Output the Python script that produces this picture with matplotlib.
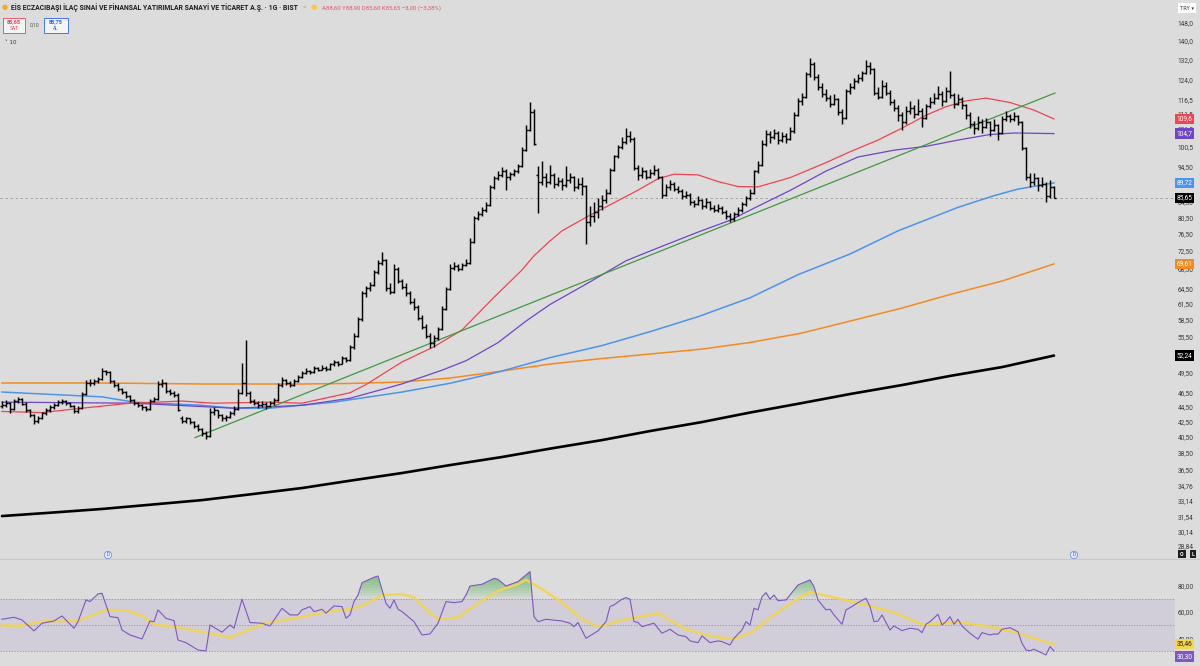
import numpy as np
import matplotlib
matplotlib.use('Agg')
import matplotlib.pyplot as plt
from matplotlib.ticker import NullLocator
from matplotlib.transforms import blended_transform_factory as btf
from matplotlib.patches import Rectangle

plt.rcParams['font.family'] = ['Roboto', 'DejaVu Sans']

# ---------------- data (daily OHLC) ----------------
opens = [44.6, 44.8, 45.0, 44.2, 45.3, 45.6, 44.9, 44.0, 43.3, 42.6,
         42.9, 43.6, 44.0, 44.4, 44.8, 45.1, 45.3, 45.0, 44.6, 43.9,
         44.3, 46.3, 48.0, 47.9, 48.2, 48.5, 49.7, 49.6, 48.2, 47.6,
         47.0, 46.6, 46.0, 45.4, 45.0, 44.7, 44.4, 44.2, 45.3, 45.6,
         47.8, 48.0, 46.8, 46.5, 46.2, 42.9, 42.6, 42.9, 42.4, 41.9,
         41.5, 41.0, 40.6, 43.8, 44.0, 43.3, 42.9, 43.1, 43.6, 44.2,
         46.5, 48.0, 46.5, 45.3, 45.0, 44.7, 44.9, 44.6, 45.0, 45.4,
         47.6, 48.4, 48.0, 47.6, 48.3, 48.8, 49.5, 49.8, 49.6, 50.2,
         50.0, 50.3, 50.1, 50.8, 51.2, 50.9, 51.8, 51.5, 53.6, 55.5,
         58.5, 63.5, 64.5, 65.2, 67.8, 69.8, 70.5, 64.5, 63.8, 68.5,
         66.0, 64.8, 63.5, 61.8, 60.8, 58.8, 57.2, 55.6, 54.3, 55.2,
         56.8, 60.5, 64.3, 68.8, 69.2, 68.6, 69.4, 69.8, 74.5, 80.5,
         81.5, 82.5, 83.8, 88.5, 91.0, 92.0, 93.2, 91.5, 92.3, 93.0,
         94.5, 99.5, 106.0, 112.0, 92.0, 90.0, 91.5, 90.0, 92.0, 89.5,
         90.3, 89.0, 90.5, 91.5, 88.5, 89.5, 88.8, 79.5, 81.0, 82.0,
         83.5, 85.0, 87.0, 93.5, 97.5, 100.5, 102.0, 104.0, 103.0, 94.0,
         92.0, 93.0, 91.5, 92.5, 93.5, 91.5, 86.5, 88.5, 89.5, 88.0,
         87.5, 86.0, 86.5, 84.5, 84.0, 85.0, 83.5, 84.5, 83.0, 82.5,
         83.0, 82.0, 81.0, 80.0, 81.5, 82.5, 84.0, 85.5, 87.0, 93.0,
         95.0, 101.5, 104.5, 103.5, 105.0, 102.5, 104.0, 103.0, 105.5, 111.0,
         116.0, 117.5, 126.0, 130.0, 125.0, 121.0, 118.5, 117.0, 115.0, 116.5,
         112.0, 110.0, 119.5, 121.0, 123.5, 124.5, 126.5, 129.5, 128.0, 119.0,
         117.5, 121.5, 119.0, 115.5, 113.5, 111.0, 108.5, 112.5, 113.5, 111.5,
         112.5, 110.0, 114.0, 115.5, 117.0, 118.5, 116.0, 119.5, 118.0, 115.0,
         116.5, 114.5, 111.0, 108.0, 106.5, 108.5, 107.0, 108.5, 106.0, 107.5,
         105.0, 109.5, 110.5, 109.5, 110.5, 108.5, 100.0, 91.5, 90.0, 91.0,
         89.0, 89.5, 86.0, 88.6]
highs = [45.3, 45.4, 45.1, 45.6, 45.9, 45.8, 45.1, 44.2, 43.5, 43.2,
         43.8, 44.3, 44.7, 45.0, 45.4, 45.6, 45.5, 45.2, 44.8, 44.6,
         46.6, 48.4, 48.5, 48.6, 48.9, 50.2, 50.0, 49.7, 48.4, 47.9,
         47.2, 46.8, 46.2, 45.6, 45.2, 44.9, 44.6, 45.6, 45.9, 48.3,
         48.6, 48.1, 47.1, 46.8, 46.4, 43.2, 43.1, 43.0, 42.6, 42.1,
         41.7, 41.3, 44.3, 44.4, 44.1, 43.5, 43.4, 43.9, 44.6, 47.0,
         51.0, 54.8, 46.8, 45.6, 45.3, 45.3, 45.1, 45.3, 45.8, 47.9,
         48.8, 48.6, 48.2, 48.6, 49.1, 49.8, 50.2, 50.0, 50.6, 50.4,
         50.7, 50.5, 51.1, 51.6, 51.4, 52.2, 52.0, 54.0, 56.0, 59.0,
         64.0, 65.0, 65.8, 68.3, 70.5, 72.2, 70.8, 65.5, 69.5, 69.0,
         66.5, 65.6, 64.0, 62.5, 61.2, 59.3, 57.6, 56.0, 55.8, 57.2,
         61.0, 64.8, 69.5, 70.0, 69.6, 69.9, 70.6, 75.5, 81.0, 82.2,
         83.1, 84.5, 89.0, 91.6, 93.2, 94.3, 93.6, 92.8, 93.6, 95.2,
         100.5, 107.5, 115.5, 113.0, 94.5, 96.0, 92.5, 95.0, 92.6, 91.5,
         91.0, 94.5, 92.5, 91.8, 91.0, 91.5, 89.0, 83.5, 84.5, 85.5,
         86.5, 88.0, 94.0, 98.0, 101.0, 103.5, 106.5, 105.5, 103.5, 94.8,
         94.2, 93.5, 93.8, 94.8, 94.0, 91.8, 89.5, 90.5, 90.0, 88.8,
         88.0, 87.5, 86.8, 85.0, 86.0, 85.4, 85.5, 84.8, 83.6, 84.0,
         83.4, 82.5, 81.6, 82.0, 83.2, 84.6, 86.2, 88.0, 93.5, 96.0,
         102.5, 106.0, 105.5, 106.2, 105.5, 105.2, 104.8, 106.8, 112.0, 117.0,
         119.0, 127.0, 132.5, 131.0, 126.0, 122.5, 120.5, 118.0, 118.5, 117.0,
         113.0, 120.5, 122.5, 124.5, 126.0, 127.5, 132.0, 131.0, 128.5, 121.0,
         124.0, 123.0, 120.0, 116.5, 114.5, 112.0, 114.0, 116.0, 114.5, 116.5,
         113.5, 115.0, 117.5, 119.0, 121.5, 119.5, 121.0, 127.5, 119.0, 118.5,
         117.5, 115.0, 112.0, 109.0, 110.5, 109.5, 110.0, 109.0, 109.5, 108.0,
         110.5, 112.5, 111.5, 112.0, 111.0, 109.0, 100.5, 92.5, 92.5, 91.5,
         91.5, 90.0, 90.5, 88.9]
lows = [44.3, 44.5, 43.6, 44.0, 45.0, 44.7, 43.8, 43.1, 42.2, 42.3,
        42.8, 43.4, 43.8, 44.2, 44.6, 44.9, 44.8, 44.4, 43.6, 43.7,
        44.2, 46.1, 47.5, 47.6, 47.9, 48.4, 49.2, 48.0, 47.3, 46.8,
        46.3, 45.7, 45.1, 44.8, 44.4, 44.1, 43.9, 44.1, 45.1, 45.5,
        47.4, 46.5, 46.2, 45.9, 43.9, 42.3, 42.3, 42.1, 41.6, 41.2,
        40.6, 40.2, 40.5, 43.4, 43.0, 42.6, 42.6, 42.9, 43.4, 44.0,
        46.3, 46.0, 45.0, 44.7, 44.3, 44.5, 44.2, 44.4, 44.8, 45.3,
        47.4, 47.7, 47.3, 47.5, 48.1, 48.7, 49.3, 49.3, 49.5, 49.7,
        49.9, 49.8, 50.0, 50.6, 50.6, 50.8, 51.2, 51.4, 53.4, 55.3,
        58.3, 62.8, 64.0, 65.0, 67.5, 69.3, 64.0, 63.4, 63.6, 65.6,
        64.3, 63.0, 61.4, 60.3, 58.4, 56.8, 55.2, 53.5, 53.6, 54.8,
        56.6, 60.3, 64.1, 68.2, 68.0, 68.3, 69.1, 69.6, 74.3, 79.9,
        80.9, 82.0, 83.5, 88.0, 90.4, 91.4, 87.7, 90.6, 91.6, 92.6,
        94.2, 99.2, 105.5, 101.0, 81.6, 89.0, 88.6, 89.5, 88.4, 88.8,
        87.8, 88.5, 89.6, 87.5, 88.0, 86.5, 74.0, 78.5, 79.5, 80.5,
        82.5, 84.2, 86.6, 93.0, 97.0, 99.8, 101.5, 102.0, 93.5, 90.5,
        91.2, 90.8, 91.0, 92.0, 90.8, 85.5, 86.0, 87.8, 87.4, 86.8,
        85.4, 85.6, 83.8, 83.2, 83.6, 82.8, 83.0, 82.4, 81.8, 82.0,
        81.4, 80.2, 79.4, 79.6, 81.0, 82.0, 83.5, 85.0, 86.6, 92.4,
        94.5, 100.8, 101.8, 102.8, 101.5, 102.0, 101.6, 102.5, 105.0, 110.5,
        114.5, 117.0, 125.0, 124.0, 120.0, 117.5, 116.0, 113.8, 114.5, 111.0,
        108.0, 109.5, 118.5, 120.5, 122.5, 123.5, 126.0, 126.0, 118.0, 116.5,
        117.0, 118.0, 114.5, 112.5, 109.0, 106.0, 108.0, 111.5, 110.0, 111.0,
        107.0, 109.5, 113.5, 115.0, 116.5, 114.0, 115.5, 117.0, 113.5, 114.5,
        113.0, 109.5, 106.5, 104.5, 106.0, 105.0, 106.5, 104.0, 105.5, 102.5,
        104.5, 109.0, 108.5, 109.0, 107.5, 99.5, 90.5, 88.5, 89.0, 87.5,
        88.5, 84.5, 85.5, 85.6]
closes = [44.8, 45.0, 44.2, 45.3, 45.6, 44.9, 44.0, 43.3, 42.6, 42.9,
          43.6, 44.0, 44.4, 44.8, 45.1, 45.3, 45.0, 44.6, 43.9, 44.3,
          46.3, 48.0, 47.9, 48.2, 48.5, 49.7, 49.6, 48.2, 47.6, 47.0,
          46.6, 46.0, 45.4, 45.0, 44.7, 44.4, 44.2, 45.3, 45.6, 47.8,
          48.0, 46.8, 46.5, 46.2, 44.0, 42.6, 42.9, 42.4, 41.9, 41.5,
          41.0, 40.6, 43.8, 44.0, 43.3, 42.9, 43.1, 43.6, 44.2, 46.5,
          48.0, 46.5, 45.3, 45.0, 44.7, 44.9, 44.6, 45.0, 45.4, 47.6,
          48.4, 48.0, 47.6, 48.3, 48.8, 49.5, 49.8, 49.6, 50.2, 50.0,
          50.3, 50.1, 50.8, 51.2, 50.9, 51.8, 51.5, 53.6, 55.5, 58.5,
          63.5, 64.5, 65.2, 67.8, 69.8, 70.5, 64.5, 63.8, 68.5, 66.0,
          64.8, 63.5, 61.8, 60.8, 58.8, 57.2, 55.6, 54.3, 55.2, 56.8,
          60.5, 64.3, 68.8, 69.2, 68.6, 69.4, 69.8, 74.5, 80.5, 81.5,
          82.5, 83.8, 88.5, 91.0, 92.0, 93.2, 91.5, 92.3, 93.0, 94.5,
          99.5, 106.0, 112.0, 101.5, 90.0, 91.5, 90.0, 92.0, 89.5, 90.3,
          89.0, 90.5, 91.5, 88.5, 89.5, 88.8, 79.5, 81.0, 82.0, 83.5,
          85.0, 87.0, 93.5, 97.5, 100.5, 102.0, 104.0, 103.0, 94.0, 92.0,
          93.0, 91.5, 92.5, 93.5, 91.5, 86.5, 88.5, 89.5, 88.0, 87.5,
          86.0, 86.5, 84.5, 84.0, 85.0, 83.5, 84.5, 83.0, 82.5, 83.0,
          82.0, 81.0, 80.0, 81.5, 82.5, 84.0, 85.5, 87.0, 93.0, 95.0,
          101.5, 104.5, 103.5, 105.0, 102.5, 104.0, 103.0, 105.5, 111.0, 116.0,
          117.5, 126.0, 130.0, 125.0, 121.0, 118.5, 117.0, 115.0, 116.5, 112.0,
          110.0, 119.5, 121.0, 123.5, 124.5, 126.5, 129.5, 128.0, 119.0, 117.5,
          121.5, 119.0, 115.5, 113.5, 111.0, 108.5, 112.5, 113.5, 111.5, 112.5,
          110.0, 114.0, 115.5, 117.0, 118.5, 116.0, 119.5, 118.0, 115.0, 116.5,
          114.5, 111.0, 108.0, 106.5, 108.5, 107.0, 108.5, 106.0, 107.5, 105.0,
          109.5, 110.5, 109.5, 110.5, 108.5, 100.0, 91.5, 90.0, 91.0, 89.0,
          89.5, 86.0, 88.6, 85.65]

# moving averages: (bar index, value) readings
red_idx = [0, 10, 20, 32, 45, 53, 67, 75, 87, 91, 100, 108, 115, 123, 130, 133, 137, 140,
           147, 153, 159, 164, 168, 174, 179, 184, 189, 197, 204, 206, 212, 219, 225, 231,
           236, 241, 246, 252, 258, 263]
red_val = [43.85, 43.7, 44.3, 45.0, 45.3, 45.0, 45.15, 45.0, 46.5, 47.7, 51.2, 53.7, 56.6, 62.7,
           68.3, 71.4, 74.8, 77.2, 81.1, 84.3, 87.7, 90.9, 92.2, 92.0, 90.1, 88.7, 88.6, 91.2,
           94.6, 95.6, 98.9, 102.6, 106.5, 110.9, 113.9, 116.0, 117.0, 115.4, 112.7, 109.6]
purple_idx = [0, 33, 58, 75, 87, 100, 110, 116, 124, 131, 137, 147, 156, 164, 174, 182, 189,
              197, 206, 214, 223, 231, 239, 247, 253, 263]
purple_val = [45.15, 45.0, 44.3, 44.7, 45.7, 47.8, 49.9, 51.4, 54.4, 58.2, 61.3, 65.8, 70.3,
              73.2, 76.9, 79.8, 83.4, 87.6, 93.1, 97.3, 99.4, 100.6, 102.6, 104.4, 104.9, 104.7]
blue_idx = [0, 25, 33, 50, 58, 67, 83, 100, 112, 124, 137, 150, 162, 174, 187, 199, 212,
            224, 231, 239, 248, 254, 263]
blue_val = [46.6, 45.9, 45.15, 44.7, 44.3, 44.3, 45.15, 46.6, 47.9, 49.6, 51.9, 53.9, 56.3,
            59.0, 62.6, 67.3, 71.8, 77.2, 79.9, 83.1, 86.2, 88.0, 89.72]
orange_idx = [0, 25, 50, 75, 87, 100, 112, 125, 137, 150, 162, 175, 187, 200, 212, 225, 237,
              250, 263]
orange_val = [47.94, 47.94, 47.79, 47.79, 47.87, 48.09, 48.69, 49.77, 50.87, 51.76, 52.49,
              53.31, 54.42, 56.06, 58.19, 60.62, 63.25, 65.97, 69.61]
black_idx = [0, 12, 25, 37, 50, 62, 75, 87, 100, 112, 125, 137, 150, 162, 175, 187, 200,
             212, 225, 237, 250, 263]
black_val = [31.6, 31.93, 32.31, 32.74, 33.22, 33.82, 34.5, 35.3, 36.16, 37.07, 38.02, 39.03,
             40.09, 41.24, 42.42, 43.7, 45.02, 46.31, 47.63, 49.01, 50.39, 52.24]

# trend line anchors (bar index, price)
trend_idx = [48.25, 263.25]
trend_val = [40.4, 118.9]

# RSI and its moving average
rsi_idx = [0, 3, 5, 8, 10, 13, 15, 18, 19, 21, 22, 24, 25, 27, 29, 30, 32, 35, 37, 38,
           39, 41, 43, 44, 46, 49, 51, 52, 55, 57, 58, 60, 62, 65, 67, 70, 72, 74, 75, 77,
           78, 80, 81, 83, 85, 86, 87, 88, 89, 90, 93, 94, 96, 97, 98, 99, 100, 103, 105, 107,
           109, 111, 113, 115, 116, 117, 120, 123, 124, 126, 129, 132, 133, 134, 136, 140, 142, 143, 144, 146,
           149, 151, 152, 153, 155, 156, 157, 158, 159, 160, 162, 163, 165, 167, 169, 171, 172, 174, 175, 177,
           179, 180, 182, 183, 185, 186, 187, 188, 189, 190, 191, 192, 193, 194, 196, 197, 199, 200, 202, 203,
           204, 206, 207, 208, 210, 211, 212, 214, 216, 217, 218, 219, 220, 222, 223, 225, 227, 229, 230, 231,
           232, 234, 235, 236, 237, 238, 239, 240, 242, 244, 245, 247, 248, 249, 250, 252, 254, 255, 256, 257,
           258, 261, 262, 263]
rsi_val = [54.3, 55.8, 53.8, 45.5, 51.3, 53.0, 56.8, 47.5, 52.5, 68.9, 67.7, 73.5, 74.0, 56.3, 55.5, 46.2, 42.4, 39.4, 53.0, 52.5,
           61.4, 55.0, 53.3, 38.6, 36.6, 31.0, 30.3, 50.0, 44.5, 50.0, 47.5, 69.5, 51.8, 51.3, 49.2, 62.6, 57.6, 57.6, 61.4, 63.9,
           60.1, 61.9, 58.9, 64.4, 63.9, 55.1, 57.6, 67.7, 72.7, 82.0, 86.1, 87.1, 66.4, 62.6, 68.9, 61.9, 60.1, 52.5, 42.4, 43.2,
           51.3, 67.7, 66.9, 67.7, 72.7, 79.5, 80.8, 85.3, 84.5, 79.5, 82.8, 90.4, 56.3, 52.5, 54.3, 53.0, 51.3, 48.7, 51.8, 39.9,
           45.5, 52.5, 63.9, 65.2, 69.5, 70.7, 69.5, 52.5, 51.8, 48.7, 50.5, 51.3, 43.7, 46.7, 42.4, 41.1, 37.9, 36.6, 41.7, 36.6,
           37.9, 37.4, 34.8, 39.9, 46.2, 52.5, 50.0, 62.6, 61.4, 71.4, 74.5, 69.5, 72.7, 68.4, 68.9, 72.7, 80.3, 81.6, 84.1, 79.0,
           68.9, 61.4, 61.9, 57.6, 50.5, 61.4, 63.1, 66.9, 70.2, 63.9, 52.5, 53.0, 57.6, 46.2, 49.2, 45.7, 47.5, 46.7, 44.2, 50.5,
           52.5, 58.1, 50.0, 52.5, 56.3, 50.5, 54.3, 49.2, 43.7, 39.2, 44.2, 42.4, 43.2, 43.0, 46.7, 47.9, 44.9, 36.1, 31.0, 30.5,
           31.6, 27.3, 33.6, 30.3]
rsi_ma_idx = [0, 4, 11, 19, 26, 31, 35, 38, 43, 49, 53, 57, 62, 66, 74, 81, 87, 91, 95, 100,
              103, 106, 109, 114, 118, 124, 129, 131, 135, 140, 145, 149, 156, 164, 171, 177, 183, 188, 192, 198,
              202, 208, 217, 223, 230, 240, 248, 252, 263]
rsi_ma_val = [49.7, 49.2, 53.0, 53.0, 61.4, 61.1, 56.8, 50.5, 48.5, 45.4, 42.9, 40.4, 46.7, 51.3, 55.6, 59.9, 61.9, 65.7, 72.5, 73.3,
              70.8, 61.9, 54.3, 55.6, 64.4, 75.8, 80.9, 84.2, 77.1, 67.0, 54.3, 48.6, 54.3, 58.9, 46.7, 41.6, 39.1, 45.4, 55.6, 68.2,
              75.1, 70.8, 64.4, 59.4, 50.5, 51.8, 48.0, 45.4, 35.46]

price_ticks = [148.0, 140.0, 132.0, 124.0, 116.5, 111.5, 106.5, 100.5, 94.5, 89.5, 84.5, 80.5,
               76.5, 72.5, 68.5, 64.5, 61.5, 58.5, 55.5, 49.5, 46.5, 44.5, 42.5, 40.5, 38.5,
               36.5, 34.76, 33.14, 31.54, 30.14, 28.84]
price_tick_labels = ['148,0', '140,0', '132,0', '124,0', '116,5', '111,5', '106,5', '100,5', '94,50',
                     '89,50', '84,50', '80,50', '76,50', '72,50', '68,50', '64,50', '61,50', '58,50',
                     '55,50', '49,50', '46,50', '44,50', '42,50', '40,50', '38,50', '36,50', '34,76',
                     '33,14', '31,54', '30,14', '28,84']
rsi_ticks = [80, 60, 40]
rsi_tick_labels = ['80,00', '60,00', '40,00']

# ---------------- styling ----------------
BG = '#dcdcdc'
C_RED = '#ef4452'
C_PURPLE = '#6f45c9'
C_BLUE = '#4c93ee'
C_ORANGE = '#f58a1f'
C_GREEN = '#3f9a3f'
C_RSI = '#7e57c2'
C_YEL = '#f3d54e'
W, H = 1200, 666
FS = 4.7


def fx(px):
    return px / W


def fy(py):
    return 1 - py / H


def fmt(v):
    s = f"{v:.1f}" if v >= 100 else f"{v:.2f}"
    return s.replace('.', ',')


fig = plt.figure(figsize=(12, 6.66), dpi=100)
fig.patch.set_facecolor(BG)

XR = (-0.5, 293.25)
ax = fig.add_axes([0, fy(558), fx(1175), 558 / H])
ax.set_facecolor(BG)
ax.set_yscale('log')
ax.set_ylim(27.71, 159.1)
ax.set_xlim(*XR)
for s in ax.spines.values():
    s.set_visible(False)
ax.set_xticks([])
ax.set_yticks(price_ticks)
ax.set_yticklabels(price_tick_labels)
ax.yaxis.set_minor_locator(NullLocator())
ax.tick_params(axis='y', which='both', length=0, pad=2.0, labelsize=FS,
               labelcolor='#3a3a3a', left=False, labelleft=False, right=True, labelright=True)

n = min(len(opens), len(highs), len(lows), len(closes))
xb = np.arange(n)
o = np.array(opens[:n]); h = np.array(highs[:n]); l = np.array(lows[:n]); c = np.array(closes[:n])

# last price dashed line
ax.axhline(c[-1], color='#9a9a9a', lw=0.6, ls=(0, (3, 3)), zorder=1)

# moving averages
ax.plot(black_idx, black_val, color='#000000', lw=1.9, zorder=2, solid_capstyle='round',
        solid_joinstyle='round')
ax.plot(orange_idx, orange_val, color=C_ORANGE, lw=1.1, zorder=2, solid_joinstyle='round')
ax.plot(blue_idx, blue_val, color=C_BLUE, lw=1.1, zorder=2, solid_joinstyle='round')
ax.plot(purple_idx, purple_val, color=C_PURPLE, lw=0.9, zorder=2, solid_joinstyle='round')
ax.plot(red_idx, red_val, color=C_RED, lw=0.9, zorder=2, solid_joinstyle='round')
ax.plot(trend_idx, trend_val, color=C_GREEN, lw=0.9, zorder=2)

# OHLC bars
ax.vlines(xb, l, h, color='black', lw=1.05, zorder=3)
ax.hlines(o, xb - 0.45, xb, color='black', lw=1.05, zorder=3)
ax.hlines(c, xb, xb + 0.45, color='black', lw=1.05, zorder=3)

bt = btf(ax.transAxes, ax.transData)


def vlabel(axis, trans, val, txt, fc, tc='white'):
    axis.text(1.0012, val, txt, transform=trans, ha='left', va='center', fontsize=FS,
              color=tc, zorder=6, clip_on=False,
              bbox=dict(boxstyle='square,pad=0.25', fc=fc, ec='none'))


vlabel(ax, bt, red_val[-1], fmt(red_val[-1]), C_RED)
vlabel(ax, bt, purple_val[-1], fmt(purple_val[-1]), C_PURPLE)
vlabel(ax, bt, blue_val[-1], fmt(blue_val[-1]), C_BLUE)
vlabel(ax, bt, c[-1], fmt(c[-1]), '#000000')
vlabel(ax, bt, orange_val[-1], fmt(orange_val[-1]), C_ORANGE)
vlabel(ax, bt, black_val[-1], fmt(black_val[-1]), '#000000')

# ---------------- RSI pane ----------------
ax2 = fig.add_axes([0, 0, fx(1175), 106 / H])
ax2.set_facecolor(BG)
ax2.set_xlim(*XR)
ax2.set_ylim(18.9, 99.2)
for s in ax2.spines.values():
    s.set_visible(False)
ax2.set_xticks([])
ax2.set_yticks(rsi_ticks)
ax2.set_yticklabels(rsi_tick_labels)
ax2.tick_params(axis='y', length=0, pad=2.0, labelsize=FS, labelcolor='#3a3a3a',
                left=False, labelleft=False, right=True, labelright=True)
ax2.axhspan(30, 70, color=C_RSI, alpha=0.11, lw=0, zorder=0)
for lv in (70, 50, 30):
    ax2.axhline(lv, color='#8c8c8c', lw=0.5, ls=(0, (2, 2)), zorder=1)

ri = np.array(rsi_idx, dtype=float)
rv = np.array(rsi_val)
for lv in np.arange(70, 92, 2.0):
    ax2.fill_between(ri, lv, rv, where=rv > lv, interpolate=True, color='#4caf50',
                     alpha=0.09, lw=0, zorder=1.5)
ax2.plot(rsi_ma_idx, rsi_ma_val, color=C_YEL, lw=1.8, alpha=0.9, zorder=2)
ax2.plot(ri, rv, color=C_RSI, lw=0.8, zorder=3)

bt2 = btf(ax2.transAxes, ax2.transData)
vlabel(ax2, bt2, rsi_ma_val[-1] + 0.3, fmt(rsi_ma_val[-1]), C_YEL, tc='#222222')
vlabel(ax2, bt2, rsi_val[-1] - 4.3, fmt(rsi_val[-1]), C_RSI)

# pane separator
fig.add_artist(plt.Line2D([0, 1], [fy(559), fy(559)], color='#c9c9c9', lw=0.8))

# ---------------- header / overlays ----------------
title = 'EİS ECZACIBAŞI İLAÇ SINAİ VE FİNANSAL YATIRIMLAR SANAYİ VE TİCARET A.Ş. · 1G · BIST'
fig.text(fx(2), fy(8), '●', fontsize=5.0, color='#f5a623', va='center', ha='left')
fig.text(fx(11), fy(8), title, fontsize=4.95, color='#1e1e1e', va='center', ha='left',
         fontweight='bold')
fig.text(fx(303), fy(8), '=', fontsize=4.6, color='#9a9a9a', va='center', ha='left')
fig.text(fx(311), fy(8), '●', fontsize=5.4, color='#f7c948', va='center', ha='left')
fig.text(fx(322), fy(8), 'A88,60 Y88,90 D85,60 K85,65 −3,00 (−3,38%)', fontsize=4.35,
         color='#de5a66', va='center', ha='left')

fig.add_artist(Rectangle((fx(3), fy(33)), fx(22), 15 / H, transform=fig.transFigure,
                         fc='#f4f4f4', ec='#ef4452', lw=0.6))
fig.text(fx(14), fy(22), '85,65', fontsize=4.0, color='#ef4452', ha='center', va='center',
         fontweight='bold')
fig.text(fx(14), fy(29), 'SAT', fontsize=3.4, color='#ef4452', ha='center', va='center')
fig.text(fx(35), fy(25), '0,10', fontsize=3.8, color='#555555', ha='center', va='center')
fig.add_artist(Rectangle((fx(44), fy(33)), fx(24), 15 / H, transform=fig.transFigure,
                         fc='#f4f4f4', ec='#2962ff', lw=0.6))
fig.text(fx(56), fy(22), '85,75', fontsize=4.0, color='#2962ff', ha='center', va='center',
         fontweight='bold')
fig.text(fx(56), fy(29), 'AL', fontsize=3.4, color='#2962ff', ha='center', va='center')
fig.text(fx(5), fy(42), '˅ 10', fontsize=4.0, color='#333333', ha='left', va='center',
         family=['DejaVu Sans'])

fig.text(fx(1187), fy(8), 'TRY ▾', fontsize=3.8, color='#333333', ha='center', va='center',
         family=['DejaVu Sans'],
         bbox=dict(boxstyle='square,pad=0.45', fc='white', ec='none'))

for px in (108, 1074):
    fig.text(fx(px), fy(555), 'D', fontsize=3.4, color='#2962ff', ha='center', va='center',
             bbox=dict(boxstyle='circle,pad=0.25', fc='#e8e8f4', ec='#6f8ff5', lw=0.6))
for px, t in ((1182, 'O'), (1193, 'L')):
    fig.text(fx(px), fy(554), t, fontsize=3.8, color='white', ha='center', va='center',
             fontweight='bold', bbox=dict(boxstyle='square,pad=0.35', fc='#1e1e1e', ec='none'))

fig.savefig('out.png', dpi=100, facecolor=BG)
